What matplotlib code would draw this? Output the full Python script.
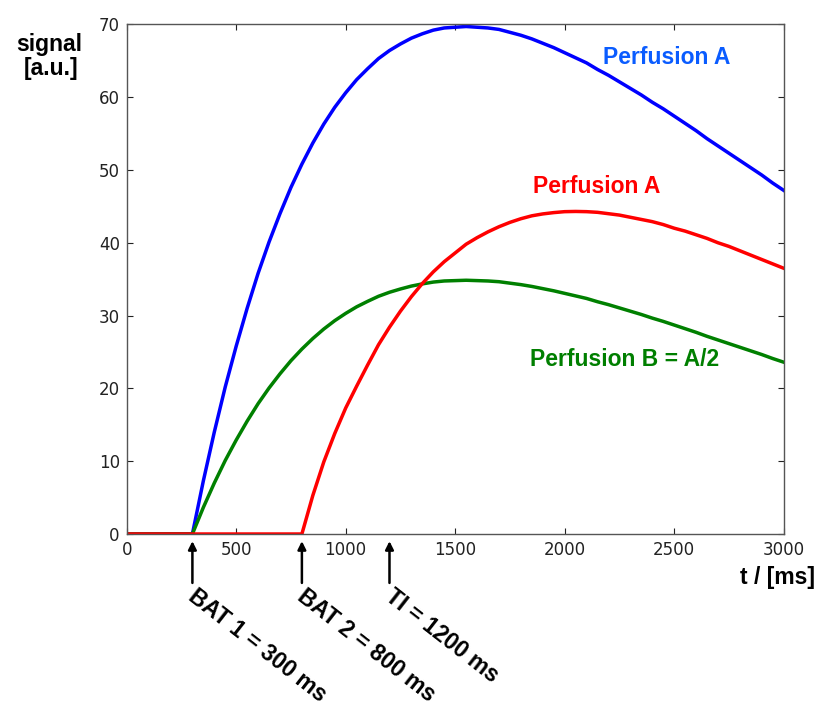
import matplotlib
matplotlib.use("Agg")
import matplotlib.pyplot as plt
from matplotlib.transforms import blended_transform_factory

# Sample times (ms): flat baseline from 0, then every 50 ms after arrival
t_bat1 = [0] + list(range(300, 3001, 50))
t_bat2 = [0] + list(range(800, 3001, 50))

# ASL difference signal (a.u.)
perfusion_a_bat1 = [0.0,
    0.0, 7.3, 14.0, 20.2, 25.8, 31.0, 35.8, 40.1, 44.0, 47.6,
    50.8, 53.7, 56.3, 58.6, 60.6, 62.4, 63.9, 65.3, 66.4, 67.3,
    68.1, 68.7, 69.2, 69.5, 69.6, 69.7, 69.6, 69.5, 69.3, 68.9,
    68.5, 68.0, 67.4, 66.8, 66.1, 65.4, 64.7, 63.8, 63.0, 62.1,
    61.2, 60.3, 59.3, 58.4, 57.4, 56.4, 55.4, 54.3, 53.3, 52.3,
    51.3, 50.3, 49.3, 48.2, 47.2]
perfusion_b_bat1 = [0.0,
    0.0, 3.65, 7.0, 10.1, 12.9, 15.5, 17.9, 20.05, 22.0, 23.8,
    25.4, 26.85, 28.15, 29.3, 30.3, 31.2, 31.95, 32.65, 33.2, 33.65,
    34.05, 34.35, 34.6, 34.75, 34.8, 34.85, 34.8, 34.75, 34.65, 34.45,
    34.25, 34.0, 33.7, 33.4, 33.05, 32.7, 32.35, 31.9, 31.5, 31.05,
    30.6, 30.15, 29.65, 29.2, 28.7, 28.2, 27.7, 27.15, 26.65, 26.15,
    25.65, 25.15, 24.65, 24.1, 23.6]
perfusion_a_bat2 = [0.0,
    0.0, 5.3, 9.9, 13.8, 17.3, 20.3, 23.2, 26.0, 28.4, 30.6,
    32.6, 34.4, 36.0, 37.4, 38.6, 39.8, 40.7, 41.5, 42.2, 42.8,
    43.3, 43.7, 43.96, 44.14, 44.27, 44.3, 44.27, 44.18, 43.99, 43.8,
    43.5, 43.2, 42.9, 42.5, 42.0, 41.6, 41.1, 40.6, 40.0, 39.5,
    38.9, 38.3, 37.7, 37.1, 36.5]

# Marked time points below the axis
marker_times = [300, 800, 1200]
marker_labels = ["BAT 1 = 300 ms", "BAT 2 = 800 ms", "TI = 1200 ms"]

x_ticks = [0, 500, 1000, 1500, 2000, 2500, 3000]
y_ticks = [0, 10, 20, 30, 40, 50, 60, 70]

fig = plt.figure(figsize=(8.18, 7.07), dpi=100)
ax = fig.add_axes([0.1549, 0.2447, 0.8031, 0.7209])

lw = 2.5
ax.plot(t_bat1, perfusion_a_bat1, color="#0000ff", lw=lw, solid_joinstyle="round")
ax.plot(t_bat1, perfusion_b_bat1, color="#008000", lw=lw, solid_joinstyle="round")
ax.plot(t_bat2, perfusion_a_bat2, color="#ff0000", lw=lw, solid_joinstyle="round")

ax.set_xlim(0, 3000)
ax.set_ylim(0, 70)
ax.set_xticks(x_ticks)
ax.set_yticks(y_ticks)
ax.tick_params(direction="in", top=True, right=True, length=4.5, width=0.8,
               labelsize=12, colors="#222222", pad=5)
for s in ax.spines.values():
    s.set_color("#555555")
    s.set_linewidth(1.0)

bold = dict(family="Liberation Sans", weight="bold")
fs = 16.5

ax.text(2466, 65.5, "Perfusion A", color="#0a5cff", fontsize=fs,
        ha="center", va="center", **bold)
ax.text(2147, 47.7, "Perfusion A", color="#ff0000", fontsize=fs,
        ha="center", va="center", **bold)
ax.text(2275, 24.0, "Perfusion B = A/2", color="#007f00", fontsize=fs,
        ha="center", va="center", **bold)

fig.text(0.060, 0.937, "signal", fontsize=fs, ha="center", va="center",
         color="black", **bold)
fig.text(0.062, 0.903, "[a.u.]", fontsize=fs, ha="center", va="center",
         color="black", **bold)
fig.text(0.996, 0.183, "t / [ms]", fontsize=fs, ha="right", va="center",
         color="black", **bold)

trans = blended_transform_factory(ax.transData, ax.transAxes)
for tm, lab in zip(marker_times, marker_labels):
    ax.annotate("", xy=(tm, -0.014), xytext=(tm, -0.096),
                xycoords=trans, textcoords=trans, annotation_clip=False,
                arrowprops=dict(arrowstyle="-|>", color="black", lw=1.8,
                                mutation_scale=12, shrinkA=0, shrinkB=0))
    ax.text(tm + 25, -0.1, lab, transform=trans, rotation=-38,
            rotation_mode="anchor", ha="left", va="top", fontsize=fs,
            color="black", **bold)

fig.savefig("out.png", dpi=100)
